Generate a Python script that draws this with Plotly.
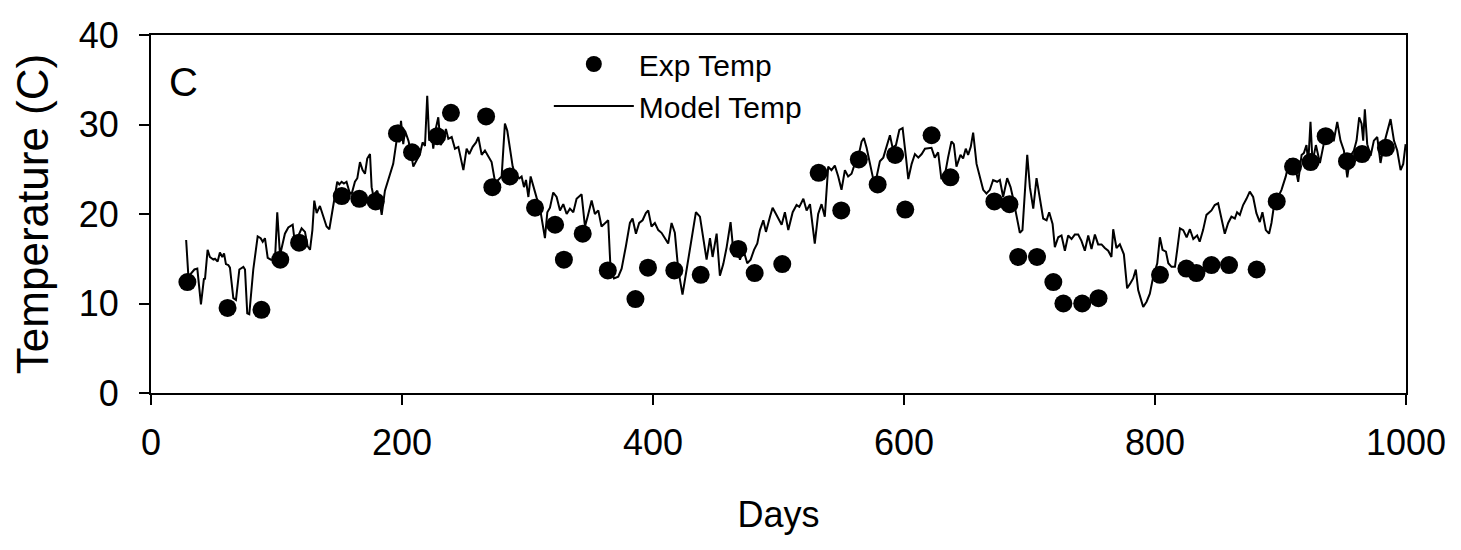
import plotly.graph_objects as go

# Experimental temperature (markers)
exp_days = [29, 61, 88, 103, 118, 152, 166, 179, 196, 208, 228, 239, 267, 272, 286,
            306, 322, 329, 344, 364, 386, 396, 417, 438, 468, 481, 503, 532, 550, 564,
            579, 593, 601, 622, 637, 672, 684, 691, 706, 719, 727, 742, 755, 804, 825,
            833, 845, 859, 881, 897, 910, 924, 936, 953, 965, 984]
exp_temp = [12.4, 9.5, 9.3, 14.9, 16.8, 22.0, 21.7, 21.4, 29.0, 26.9, 28.7, 31.3, 30.9, 23.0, 24.2,
            20.7, 18.8, 14.9, 17.8, 13.7, 10.5, 14.0, 13.7, 13.2, 16.1, 13.4, 14.4, 24.6, 20.4, 26.1,
            23.3, 26.6, 20.5, 28.8, 24.1, 21.4, 21.1, 15.2, 15.2, 12.4, 10.0, 10.0, 10.6, 13.2, 13.9,
            13.4, 14.3, 14.3, 13.8, 21.4, 25.3, 25.8, 28.7, 25.9, 26.7, 27.4]

# Model temperature (line)
model_days = [28.0, 29.8, 34.6, 36.9, 39.8, 42.2, 43.0, 45.1, 46.9, 49.7, 51.0, 53.1, 54.9, 56.8, 58.2,
              59.7, 61.6, 62.9, 65.6, 67.7, 70.4, 73.6, 74.9, 76.7, 78.3, 81.5, 85.0, 87.4, 89.0, 90.8,
              93.0, 95.6, 98.8, 100.6, 102.8, 106.7, 109.4, 112.9, 114.7, 117.4, 120.0, 122.7, 124.8, 126.7, 128.6,
              130.1, 132.0, 134.6, 137.3, 139.9, 142.1, 143.9, 146.6, 148.4, 150.0, 151.9, 153.7, 155.8, 158.0, 159.8,
              162.5, 164.4, 166.5, 168.6, 170.5, 172.3, 174.5, 175.8, 177.1, 180.3, 181.9, 183.8, 186.4, 189.9, 193.0,
              195.7, 197.1, 197.8, 199.2, 201.0, 202.4, 205.1, 206.9, 209.0, 211.1, 214.3, 216.4, 218.3, 220.1, 221.7,
              223.6, 224.9, 227.0, 228.9, 230.8, 232.9, 235.0, 236.9, 239.6, 242.2, 244.9, 246.7, 248.9, 251.5, 253.6,
              256.3, 259.0, 260.8, 263.5, 266.1, 268.8, 271.4, 274.1, 276.7, 279.4, 282.0, 283.9, 286.0, 288.2, 290.8,
              293.5, 295.3, 297.2, 298.8, 300.7, 302.5, 304.6, 307.3, 309.9, 313.9, 315.8, 317.9, 320.5, 323.2, 325.9,
              328.5, 331.2, 333.8, 336.5, 339.1, 343.1, 345.8, 347.9, 351.1, 353.7, 356.4, 359.0, 361.7, 364.3, 366.2,
              368.9, 372.3, 375.0, 378.4, 381.6, 383.7, 386.4, 389.0, 391.7, 394.3, 396.2, 398.8, 401.5, 404.2, 406.8,
              409.5, 412.1, 414.8, 417.4, 420.1, 423.5, 426.8, 430.8, 434.2, 437.4, 440.1, 442.7, 445.4, 447.5, 450.7,
              453.3, 456.0, 458.7, 461.8, 464.5, 466.6, 469.3, 472.0, 475.1, 477.8, 480.5, 483.1, 485.2, 487.9, 490.0,
              493.2, 495.3, 498.0, 500.6, 502.5, 505.1, 507.8, 511.3, 514.4, 516.6, 519.8, 522.4, 525.1, 528.9, 531.6,
              534.3, 536.9, 539.6, 542.2, 544.9, 547.6, 550.2, 552.9, 555.5, 558.2, 560.8, 563.5, 566.2, 568.0, 570.2,
              572.8, 575.5, 578.1, 580.8, 583.5, 586.1, 588.8, 590.9, 593.6, 596.3, 598.9, 601.6, 603.4, 606.1, 608.7,
              611.4, 614.1, 616.7, 621.9, 624.5, 627.2, 629.8, 632.5, 635.1, 637.8, 639.7, 641.8, 645.0, 647.1, 649.2,
              651.1, 653.2, 655.1, 657.8, 660.4, 663.1, 665.7, 668.4, 671.0, 674.2, 676.4, 679.0, 682.2, 684.9, 687.0,
              689.7, 692.3, 694.4, 696.3, 698.2, 700.3, 703.0, 705.6, 708.3, 710.9, 713.6, 715.7, 718.4, 720.2, 722.9,
              725.5, 728.2, 730.8, 733.5, 736.1, 738.8, 741.4, 744.1, 746.8, 749.4, 752.1, 754.7, 757.4, 760.0, 762.7,
              765.3, 766.7, 769.3, 772.0, 775.2, 777.8, 780.5, 782.6, 784.7, 786.6, 788.5, 790.6, 793.3, 795.9, 798.6,
              801.8, 803.9, 806.0, 808.7, 810.6, 813.2, 815.9, 817.7, 819.9, 822.5, 825.2, 827.8, 830.5, 833.6, 835.6,
              838.3, 841.0, 845.0, 847.6, 850.3, 852.9, 855.6, 858.3, 860.9, 863.6, 865.4, 867.6, 870.2, 872.9, 875.5,
              878.2, 880.8, 883.5, 885.6, 888.3, 890.9, 892.8, 895.4, 898.1, 900.8, 904.2, 907.4, 911.4, 914.1, 916.8,
              918.6, 920.7, 922.1, 923.9, 925.5, 928.2, 931.4, 934.0, 936.7, 939.3, 942.5, 945.2, 947.8, 950.5, 953.2,
              955.8, 958.5, 960.6, 962.7, 964.6, 965.9, 967.2, 969.1, 971.8, 974.4, 977.1, 979.7, 982.4, 985.9, 987.7,
              990.4, 993.0, 995.7, 997.8, 999.7]
model_temp = [17.1, 13.0, 13.8, 13.9, 9.9, 12.8, 12.7, 16.0, 15.2, 14.9, 15.0, 14.7, 15.7, 15.2, 15.6,
              14.4, 14.3, 14.0, 10.6, 10.4, 13.8, 14.1, 13.8, 8.9, 8.8, 13.8, 17.5, 17.3, 16.9, 17.3,
              15.1, 14.9, 14.9, 20.2, 15.4, 17.8, 18.5, 18.8, 16.7, 17.6, 18.4, 18.0, 16.4, 16.0, 18.2,
              21.5, 20.1, 20.9, 19.7, 18.6, 18.3, 19.9, 22.3, 23.6, 23.3, 23.6, 23.4, 23.6, 22.5, 22.2,
              23.6, 24.0, 25.8, 24.9, 24.5, 26.2, 26.7, 23.0, 22.1, 22.6, 21.7, 19.9, 22.6, 24.1, 25.6,
              28.2, 30.0, 28.0, 30.4, 27.8, 29.3, 28.2, 27.1, 25.3, 25.8, 26.7, 28.0, 27.6, 33.2, 28.2,
              29.1, 27.3, 29.6, 30.8, 27.7, 28.2, 29.5, 28.4, 28.6, 27.3, 27.5, 26.4, 24.9, 27.3, 26.7,
              27.5, 28.0, 28.6, 26.6, 27.1, 26.4, 25.8, 23.6, 23.8, 24.2, 30.1, 29.3, 27.5, 25.3, 24.2,
              24.0, 24.2, 23.0, 23.8, 21.9, 24.2, 23.0, 21.8, 20.7, 17.3, 20.2, 20.7, 22.4, 21.9, 20.4,
              21.1, 20.0, 20.6, 20.2, 21.7, 22.2, 18.6, 19.7, 21.5, 20.0, 20.4, 18.6, 19.0, 19.3, 13.8,
              12.8, 13.0, 13.9, 16.4, 19.0, 19.5, 17.8, 19.0, 19.3, 20.1, 20.4, 18.6, 19.0, 18.2, 17.9,
              17.3, 16.7, 19.0, 17.9, 13.8, 11.0, 13.8, 17.5, 20.2, 19.7, 17.5, 14.9, 17.3, 15.2, 17.8,
              13.1, 14.4, 16.3, 19.1, 15.2, 16.3, 14.9, 16.0, 14.5, 14.9, 16.0, 16.7, 18.2, 19.3, 18.0,
              19.7, 20.7, 20.0, 19.3, 18.8, 20.2, 18.2, 20.2, 21.0, 20.8, 21.7, 20.4, 21.1, 16.7, 20.0,
              21.1, 19.7, 25.3, 24.9, 25.4, 24.2, 22.7, 24.9, 24.2, 24.5, 25.6, 26.3, 28.1, 28.5, 27.4,
              25.6, 23.9, 24.1, 25.9, 26.3, 27.4, 28.8, 27.4, 27.7, 29.4, 29.6, 26.3, 23.9, 25.6, 26.7,
              26.3, 26.7, 27.3, 27.4, 26.3, 26.9, 23.9, 24.3, 26.3, 28.1, 27.8, 25.3, 26.6, 26.2, 27.3,
              26.6, 27.5, 29.1, 25.6, 24.1, 22.7, 22.3, 22.7, 23.8, 23.6, 23.8, 21.9, 24.0, 23.0, 21.7,
              19.7, 17.9, 18.2, 22.3, 26.6, 23.0, 20.6, 24.0, 21.9, 19.5, 19.3, 20.2, 18.9, 16.3, 17.4,
              17.6, 15.9, 17.6, 17.2, 17.7, 17.7, 17.0, 15.9, 17.6, 16.1, 17.7, 16.6, 16.6, 16.2, 15.9,
              15.2, 18.3, 16.2, 16.6, 15.5, 11.7, 12.3, 12.8, 13.8, 11.5, 10.6, 9.6, 10.2, 11.1, 13.0,
              14.5, 17.4, 16.0, 15.8, 14.5, 14.1, 14.1, 16.0, 18.4, 18.2, 17.4, 18.3, 17.2, 17.6, 16.9,
              18.2, 19.9, 20.4, 21.0, 21.2, 19.7, 17.8, 19.0, 19.7, 19.5, 20.2, 19.9, 21.0, 21.7, 22.5,
              21.9, 20.1, 19.1, 20.2, 18.2, 17.8, 19.0, 21.5, 21.9, 22.7, 24.2, 26.2, 25.5, 23.6, 26.6,
              26.8, 27.7, 25.7, 30.3, 25.8, 27.7, 25.7, 27.5, 29.3, 28.2, 28.2, 30.3, 28.2, 27.1, 24.1,
              26.5, 27.1, 28.2, 30.8, 30.1, 28.2, 31.7, 27.8, 26.5, 28.2, 28.6, 25.7, 27.8, 29.7, 30.6,
              28.2, 27.1, 24.9, 25.6, 27.8]

x_ticks = [0, 200, 400, 600, 800, 1000]
y_ticks = [0, 10, 20, 30, 40]

FONT = "Liberation Sans, Arial, sans-serif"

fig = go.Figure()
fig.add_trace(go.Scatter(x=exp_days, y=exp_temp, mode="markers", name="Exp Temp",
                         marker=dict(color="black", size=18, line=dict(width=0))))
fig.add_trace(go.Scatter(x=model_days, y=model_temp, mode="lines", name="Model Temp",
                         line=dict(color="black", width=2)))

axis_common = dict(showline=True, linecolor="black", linewidth=2, mirror=True,
                   ticks="outside", ticklen=10, tickwidth=1.5, tickcolor="black",
                   showgrid=False, zeroline=False, automargin=False,
                   tickfont=dict(size=36, color="black", family=FONT))

fig.update_xaxes(range=[0, 1000], tickvals=x_ticks, ticklabelstandoff=7,
                 title=dict(text="Days", font=dict(size=36, color="black", family=FONT), standoff=40),
                 **axis_common)
fig.update_yaxes(range=[0, 40], tickvals=y_ticks, ticklabelstandoff=13,
                 title=dict(text="Temperature (C)", font=dict(size=44, color="black", family=FONT), standoff=18),
                 **axis_common)

fig.add_annotation(text="C", xref="paper", yref="paper", x=0.0257, y=0.868,
                   showarrow=False, font=dict(size=40, color="black", family=FONT),
                   xanchor="center", yanchor="middle")

# The page body has an 8px default margin; the figure is sized and offset to compensate.
fig.update_layout(
    width=1445, height=534,
    margin=dict(l=143, r=47, t=27, b=149, autoexpand=False),
    plot_bgcolor="white", paper_bgcolor="white",
    font=dict(family=FONT, color="black"),
    legend=dict(x=0.317, y=0.9916, xanchor="left", yanchor="top", bgcolor="rgba(0,0,0,0)",
                font=dict(size=30, color="black", family=FONT), itemwidth=80,
                tracegroupgap=0),
    showlegend=True,
)

fig.write_html("out.html")
